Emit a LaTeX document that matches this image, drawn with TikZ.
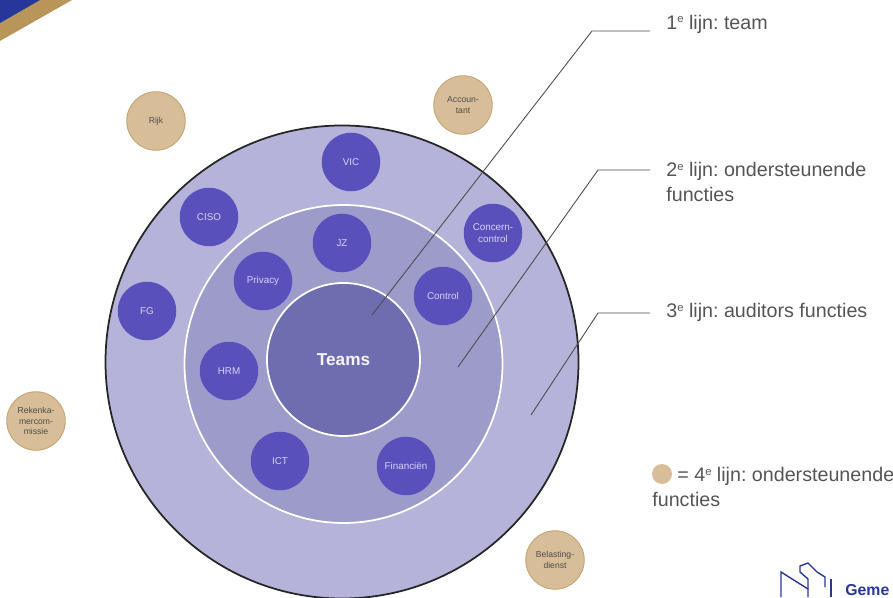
\documentclass[tikz,border=0pt]{standalone}
\usepackage{fontspec}
\setmainfont{Liberation Sans}
\usepackage{xcolor}
\definecolor{ringout}{HTML}{B5B3D9}
\definecolor{ringmid}{HTML}{9D9BC9}
\definecolor{ringin}{HTML}{6E6DB0}
\definecolor{func}{HTML}{5A50BC}
\definecolor{extern}{HTML}{D8BE98}
\definecolor{externline}{HTML}{C2A272}
\definecolor{stripe}{HTML}{B8965A}
\definecolor{brand}{HTML}{27369B}
\definecolor{tekst}{HTML}{555555}
\newcommand{\hoog}{\raisebox{0.62ex}{\fontsize{6.4}{7}\selectfont e}}
\frenchspacing
\tikzset{%
	every func/.style={
		circle,
		fill=func,
		text=white!75!func,
		minimum size=1.17cm,
		inner sep=0pt,
		align=center,
		font=\fontsize{5.6}{6.8}\selectfont
	},
	every extern/.style={
		circle,
		draw=externline,
		fill=extern,
		line width=0.5pt,
		text=black!70,
		minimum size=1.17cm,
		inner sep=0pt,
		align=center,
		font=\fontsize{4.9}{6}\selectfont
	},
	every lijn/.style={
		anchor=west,
		inner sep=0pt,
		align=left,
		text=tekst,
		font=\fontsize{11.2}{14}\selectfont
	},
	leader/.style={
		draw=black!70,
		line width=0.5pt
	},
}
\begin{document}
\begin{tikzpicture}
			\useasboundingbox (0,0) rectangle (17.86,11.94);
			\clip (0,0) rectangle (17.86,11.94);
			
			% Draw the corner stripes
			\fill[stripe] (0,11.94) -- (1.44,11.94) -- (0,11.12) -- cycle;
			\fill[brand] (0,11.94) -- (0.8,11.94) -- (0,11.48) -- cycle;
			
			% Draw the three rings
			\node[circle, draw=black!85, fill=ringout, line width=1pt, minimum size=9.46cm, inner sep=0pt] (ring3) at (6.84,4.7) {};
			\node[circle, draw=white, fill=ringmid, line width=1pt, minimum size=6.36cm, inner sep=0pt] (ring2) at (6.87,4.66) {};
			\node[circle, draw=white, fill=ringin, line width=1pt, minimum size=3.06cm, inner sep=0pt, text=white!92!ringin, font=\fontsize{9.8}{11}\selectfont\bfseries] (teams) at (6.87,4.75) {Teams};
			
			% Draw the functions
			\node[every func] (vic) at (7.02,8.7) {VIC};
			\node[every func] (ciso) at (4.18,7.6) {CISO};
			\node[every func] (concern) at (9.86,7.28) {Concern-\\control};
			\node[every func] (jz) at (6.84,7.08) {JZ};
			\node[every func] (privacy) at (5.26,6.32) {Privacy};
			\node[every func] (control) at (8.86,6.02) {Control};
			\node[every func] (fg) at (2.94,5.72) {FG};
			\node[every func] (hrm) at (4.58,4.52) {HRM};
			\node[every func] (ict) at (5.6,2.72) {ICT};
			\node[every func] (financien) at (8.12,2.62) {Financiën};
			
			% Draw the outside parties
			\node[every extern] (rijk) at (3.12,9.52) {Rijk};
			\node[every extern] (accountant) at (9.26,9.84) {Accoun-\\tant};
			\node[every extern] (rekenkamer) at (0.72,3.52) {Rekenka-\\mercom-\\missie};
			\node[every extern] (belasting) at (11.1,0.74) {Belasting-\\dienst};
			
			% Draw the labels
			\node[every lijn] (lijn1) at (13.32,11.46) {1\hoog{} lijn: team};
			\node[every lijn] (lijn2) at (13.32,8.3) {2\hoog{} lijn: ondersteunende\\functies};
			\node[every lijn] (lijn3) at (13.32,5.69) {3\hoog{} lijn: auditors functies};
			\node[circle, fill=extern, minimum size=0.4cm, inner sep=0pt] (legenda) at (13.24,2.46) {};
			\node[every lijn] (lijn4) at (13.04,2.2) {\hspace{0.5cm}= 4\hoog{} lijn: ondersteunende\\functies};
			
			% Draw the leader lines
			\coordinate (tip1) at (7.44,5.64);
			\coordinate (knee1) at (11.84,11.32);
			\coordinate (end1) at (13,11.32);
			\coordinate (tip2) at (9.16,4.6);
			\coordinate (knee2) at (11.96,8.54);
			\coordinate (end2) at (13,8.54);
			\coordinate (tip3) at (10.62,3.64);
			\coordinate (knee3) at (11.96,5.68);
			\coordinate (end3) at (13,5.68);
			\draw[leader] (tip1) -- (knee1) -- (end1);
			\draw[leader] (tip2) -- (knee2) -- (end2);
			\draw[leader] (tip3) -- (knee3) -- (end3);
			
			% Draw the logo
			\draw[brand, line width=0.8pt] (15.62,0) -- (15.62,0.5) -- (16.16,0.16) -- (16.16,0);
			\draw[brand, line width=0.8pt] (16.16,0.16) -- (16.16,0.36) -- (16,0.5) -- (16,0.62) -- (16.16,0.68) -- (16.34,0.5) -- (16.5,0.4) -- (16.5,0.2);
			\draw[brand, line width=0.8pt] (16.62,0.36) -- (16.62,0);
			\node[anchor=base west, inner sep=0pt, text=brand, font=\fontsize{9}{11}\selectfont\bfseries] (logotekst) at (16.9,0.04) {Geme};
			
		\end{tikzpicture}
\end{document}
